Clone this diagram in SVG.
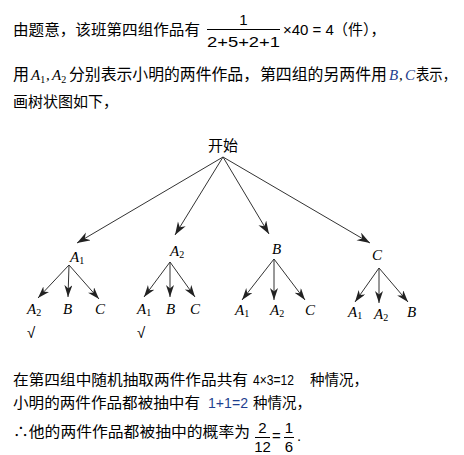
<svg xmlns="http://www.w3.org/2000/svg" width="464" height="455" viewBox="0 0 464 455">
<style>
.cn{font-family:"Noto Sans CJK SC","Noto Sans",sans-serif;font-size:15px;fill:#000}
.cn16{font-family:"Noto Sans CJK SC","Noto Sans",sans-serif;font-size:16px;fill:#000}
.num{font-family:"Liberation Sans",Arial,sans-serif;font-size:15px;fill:#000}
.m{font-family:"Liberation Serif","Times New Roman",serif;font-style:italic;font-size:15px;fill:#000}
.sub{font-family:"Liberation Serif","Times New Roman",serif;font-style:normal;font-size:10px}
.blue{fill:#1f3f8f}
.e{stroke:#333;stroke-width:1;fill:none}
.e1{marker-end:url(#ah)}
.e2{marker-end:url(#ah2)}
</style>
<defs>
<marker id="ah" markerUnits="userSpaceOnUse" markerWidth="14" markerHeight="10" refX="13" refY="4.5" orient="auto"><path d="M0,0 L13,4.5 L0,9 L4,4.5 z" fill="#222"/></marker>
<marker id="ah2" markerUnits="userSpaceOnUse" markerWidth="13" markerHeight="10" refX="12" refY="4" orient="auto"><path d="M0,0 L12,4 L0,8 L3.5,4 z" fill="#222"/></marker>
</defs>
<g id="text-top">
<text class="cn" x="13" y="35" textLength="187" lengthAdjust="spacingAndGlyphs">由题意，该班第四组作品有</text>
<text class="num" x="243.5" y="25" text-anchor="middle">1</text>
<line x1="207" y1="29.5" x2="280" y2="29.5" stroke="#000" stroke-width="1"/>
<text class="num" x="207" y="47" textLength="73" lengthAdjust="spacingAndGlyphs">2+5+2+1</text>
<text class="num" x="283" y="35">×40 = 4</text>
<text class="cn" x="333" y="35">（件），</text>
<text class="cn16" x="13" y="80">用</text>
<text class="m" x="31" y="80">A<tspan class="sub" dy="3">1</tspan></text>
<text class="m" x="46" y="80" font-style="normal">,</text>
<text class="m" x="52" y="80">A<tspan class="sub" dy="3">2</tspan></text>
<text class="cn16" x="69" y="80" textLength="190" lengthAdjust="spacingAndGlyphs">分别表示小明的两件作品，</text>
<text class="cn16" x="260" y="80" textLength="127" lengthAdjust="spacingAndGlyphs">第四组的另两件用</text>
<text class="m blue" x="389" y="80">B</text>
<text class="m" x="399" y="80" font-style="normal">,</text>
<text class="m blue" x="405" y="80">C</text>
<text class="cn16" x="416" y="80" textLength="40" lengthAdjust="spacingAndGlyphs">表示，</text>
<text class="cn" x="13" y="107" textLength="105" lengthAdjust="spacingAndGlyphs">画树状图如下，</text>
</g>
<g id="connectors">
<line class="e e1" x1="223" y1="157" x2="77" y2="243"/>
<line class="e e1" x1="223" y1="157" x2="175" y2="235"/>
<line class="e e1" x1="223" y1="157" x2="269" y2="234"/>
<line class="e e1" x1="223" y1="157" x2="370" y2="243"/>
<line class="e e2" x1="69" y1="265" x2="38" y2="298"/>
<line class="e e2" x1="69" y1="265" x2="68" y2="297"/>
<line class="e e2" x1="69" y1="265" x2="99" y2="299"/>
<line class="e e2" x1="170" y1="262" x2="144" y2="297"/>
<line class="e e2" x1="170" y1="262" x2="170" y2="297"/>
<line class="e e2" x1="170" y1="262" x2="195" y2="297"/>
<line class="e e2" x1="274" y1="259" x2="242" y2="300"/>
<line class="e e2" x1="274" y1="259" x2="274" y2="300"/>
<line class="e e2" x1="274" y1="259" x2="305" y2="300"/>
<line class="e e2" x1="379" y1="268" x2="355" y2="302"/>
<line class="e e2" x1="379" y1="268" x2="379" y2="303"/>
<line class="e e2" x1="379" y1="268" x2="408" y2="302"/>
</g>
<g id="root"><text class="cn" x="223" y="151" text-anchor="middle">开始</text></g>
<g id="n-A1"><text class="m" x="70" y="262">A<tspan class="sub" dy="2">1</tspan></text></g>
<g id="n-A2"><text class="m" x="170" y="256">A<tspan class="sub" dy="2">2</tspan></text></g>
<g id="n-B"><text class="m" x="272" y="254">B</text></g>
<g id="n-C"><text class="m" x="372" y="260">C</text></g>
<g id="n-A1-A2"><text class="m" x="27" y="314">A<tspan class="sub" dy="2">2</tspan></text></g>
<g id="n-A1-B"><text class="m" x="63" y="314">B</text></g>
<g id="n-A1-C"><text class="m" x="95" y="314">C</text></g>
<g id="n-A2-A1"><text class="m" x="137" y="314">A<tspan class="sub" dy="2">1</tspan></text></g>
<g id="n-A2-B"><text class="m" x="166" y="314">B</text></g>
<g id="n-A2-C"><text class="m" x="190" y="314">C</text></g>
<g id="n-B-A1"><text class="m" x="235" y="315">A<tspan class="sub" dy="2">1</tspan></text></g>
<g id="n-B-A2"><text class="m" x="270" y="315">A<tspan class="sub" dy="2">2</tspan></text></g>
<g id="n-B-C"><text class="m" x="305" y="315">C</text></g>
<g id="n-C-A1"><text class="m" x="348" y="317">A<tspan class="sub" dy="2">1</tspan></text></g>
<g id="n-C-A2"><text class="m" x="374" y="319">A<tspan class="sub" dy="2">2</tspan></text></g>
<g id="n-C-B"><text class="m" x="407" y="317">B</text></g>
<g id="checks">
<text class="num" x="27" y="338" font-size="14">√</text>
<text class="num" x="137" y="338" font-size="14">√</text>
</g>
<g id="text-bottom">
<text class="cn" x="13" y="385" textLength="235" lengthAdjust="spacingAndGlyphs">在第四组中随机抽取两件作品共有</text>
<text class="num" x="253" y="385" textLength="41" lengthAdjust="spacingAndGlyphs">4×3=12</text>
<text class="cn" x="310" y="385" textLength="58" lengthAdjust="spacingAndGlyphs">种情况，</text>
<text class="cn" x="13" y="408" textLength="187" lengthAdjust="spacingAndGlyphs">小明的两件作品都被抽中有</text>
<text class="num blue" x="208" y="408" textLength="40" lengthAdjust="spacingAndGlyphs">1+1=2</text>
<text class="cn" x="253" y="408" textLength="58" lengthAdjust="spacingAndGlyphs">种情况，</text>
<text class="cn" x="13" y="437" textLength="237" lengthAdjust="spacingAndGlyphs">∴他的两件作品都被抽中的概率为</text>
<text class="num" x="262.5" y="433" text-anchor="middle">2</text>
<line x1="255" y1="437.5" x2="270" y2="437.5" stroke="#000" stroke-width="1"/>
<text class="num" x="262.5" y="452" text-anchor="middle">12</text>
<text class="num" x="272" y="441">=</text>
<text class="num" x="289" y="433" text-anchor="middle">1</text>
<line x1="284" y1="437.5" x2="294" y2="437.5" stroke="#000" stroke-width="1"/>
<text class="num" x="289" y="452" text-anchor="middle">6</text>
<text class="num" x="297" y="441">.</text>
</g>
</svg>
